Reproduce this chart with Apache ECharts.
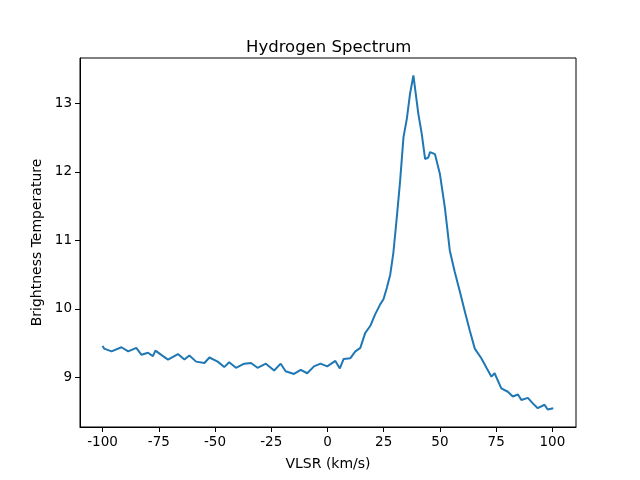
<!DOCTYPE html>
<html><head><meta charset="utf-8">
<script src="https://cdn.jsdelivr.net/npm/echarts@6/dist/echarts.min.js"></script>
<style>html,body{margin:0;padding:0;background:#fff}#c{width:640px;height:480px}</style>
</head><body><div id="c"></div>
<script>
const vlsr = [-100,-99.3,-96,-91.6,-88.6,-85,-82.7,-79.8,-77.6,-76.5,-73.1,-70.9,-66.5,-63.6,-61.4,-58.4,-54.7,-52.5,-48.8,-45.9,-43.7,-40.7,-37,-34,-31.1,-27.4,-23.7,-20.8,-18.6,-14.9,-11.9,-9,-6,-3.1,-0.1,3.5,5.5,7.2,10.2,12.4,14.6,16.8,19,21.2,23.5,24.9,26.4,27.9,29.3,30.8,32.3,33.8,35.3,36.7,38.2,38.9,40.4,41.9,43.4,44.8,45.6,47.8,50,52.2,54.4,56.6,58.8,61.1,63.3,65.5,68.4,70.7,72.9,74.3,77.3,80.2,82.4,84.7,86.2,89.1,91.3,93.5,96.5,97.9,100.4];
const temp = [9.46,9.42,9.38,9.44,9.38,9.43,9.33,9.36,9.31,9.39,9.31,9.26,9.34,9.26,9.32,9.23,9.21,9.29,9.23,9.15,9.22,9.14,9.20,9.21,9.14,9.20,9.10,9.20,9.09,9.05,9.11,9.06,9.16,9.20,9.16,9.24,9.13,9.27,9.28,9.38,9.43,9.65,9.75,9.92,10.07,10.14,10.31,10.50,10.82,11.33,11.87,12.51,12.78,13.14,13.41,13.39,12.85,12.56,12.19,12.21,12.29,12.26,11.97,11.48,10.85,10.54,10.26,9.96,9.68,9.42,9.28,9.14,9.01,9.06,8.84,8.79,8.72,8.75,8.67,8.70,8.62,8.55,8.60,8.53,8.55];
const xTicks = [-100,-75,-50,-25,0,25,50,75,100];
const yTicks = [9,10,11,12,13];
const ch = echarts.init(document.getElementById('c'));
const font = 'DejaVu Sans';
ch.setOption({
  animation:false,
  title:{text:'Hydrogen Spectrum',left:241,top:34,textStyle:{fontFamily:font,fontSize:16.5,fontWeight:'normal',color:'#000'}},
  grid:{left:80,right:64,top:58,bottom:53,show:true,borderColor:'#000',borderWidth:1,backgroundColor:'transparent'},
  xAxis:{type:'value',min:-110.03,max:110.5,name:'VLSR (km/s)',nameLocation:'middle',nameGap:30,
    nameTextStyle:{fontFamily:font,fontSize:14,color:'#000'},
    axisLine:{show:true,onZero:false,lineStyle:{color:'#000'}},
    axisTick:{show:true,inside:false,length:5,customValues:xTicks,lineStyle:{color:'#000'}},
    axisLabel:{customValues:xTicks,margin:8,fontFamily:font,fontSize:13.5,color:'#000'},
    splitLine:{show:false}},
  yAxis:{type:'value',min:8.275,max:13.665,name:'Brightness Temperature',nameLocation:'middle',nameGap:30,
    nameTextStyle:{fontFamily:font,fontSize:14,color:'#000'},
    axisLine:{show:true,onZero:false,lineStyle:{color:'#000'}},
    axisTick:{show:true,inside:false,length:5,customValues:yTicks,lineStyle:{color:'#000'}},
    axisLabel:{customValues:yTicks,margin:8,fontFamily:font,fontSize:13.5,color:'#000'},
    splitLine:{show:false}},
  series:[{type:'line',data:vlsr.map((v,i)=>[v,temp[i]]),showSymbol:false,symbol:'none',
    lineStyle:{color:'#1f77b4',width:2},itemStyle:{color:'#1f77b4'}}]
});
</script></body></html>
